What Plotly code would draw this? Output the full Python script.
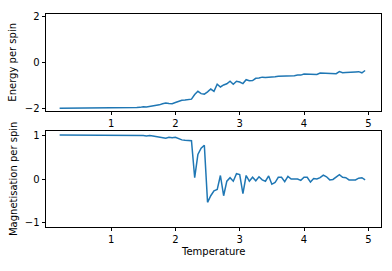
import plotly.graph_objects as go
from plotly.subplots import make_subplots

temperature = [
    0.20, 0.25, 0.30, 0.35, 0.40, 0.45, 0.50, 0.55, 0.60, 0.65,
    0.70, 0.75, 0.80, 0.85, 0.90, 0.95, 1.00, 1.05, 1.10, 1.15,
    1.20, 1.25, 1.30, 1.35, 1.40, 1.45, 1.50, 1.55, 1.60, 1.65,
    1.70, 1.75, 1.80, 1.85, 1.90, 1.95, 2.00, 2.05, 2.10, 2.15,
    2.20, 2.25, 2.30, 2.35, 2.40, 2.45, 2.50, 2.55, 2.60, 2.65,
    2.70, 2.75, 2.80, 2.85, 2.90, 2.95, 3.00, 3.05, 3.10, 3.15,
    3.20, 3.25, 3.30, 3.35, 3.40, 3.45, 3.50, 3.55, 3.60, 3.65,
    3.70, 3.75, 3.80, 3.85, 3.90, 3.95, 4.00, 4.05, 4.10, 4.15,
    4.20, 4.25, 4.30, 4.35, 4.40, 4.45, 4.50, 4.55, 4.60, 4.65,
    4.70, 4.75, 4.80, 4.85, 4.90, 4.95,
]

energy = [
    -2.00, -2.00, -2.00, -2.00, -2.00, -2.00, -2.00, -2.00, -2.00, -2.00,
    -2.00, -2.00, -2.00, -2.00, -2.00, -2.00, -2.00, -2.00, -2.00, -2.00,
    -1.99, -1.99, -1.98, -1.98, -1.97, -1.96, -1.93, -1.94, -1.92, -1.90,
    -1.88, -1.85, -1.80, -1.77, -1.79, -1.80, -1.75, -1.70, -1.65, -1.64,
    -1.62, -1.60, -1.40, -1.26, -1.36, -1.38, -1.28, -1.16, -1.26, -0.95,
    -1.07, -0.98, -0.93, -0.82, -0.95, -0.82, -0.85, -0.92, -0.75, -0.80,
    -0.79, -0.69, -0.68, -0.64, -0.65, -0.65, -0.64, -0.62, -0.60, -0.60,
    -0.58, -0.57, -0.57, -0.58, -0.55, -0.55, -0.50, -0.51, -0.52, -0.50,
    -0.52, -0.46, -0.47, -0.48, -0.47, -0.48, -0.49, -0.40, -0.45, -0.44,
    -0.44, -0.42, -0.41, -0.40, -0.45, -0.35,
]

magnetisation = [
    1.00, 1.00, 1.00, 1.00, 1.00, 1.00, 1.00, 1.00, 1.00, 1.00,
    1.00, 1.00, 1.00, 1.00, 1.00, 1.00, 1.00, 1.00, 1.00, 0.995,
    0.995, 0.995, 0.99, 0.995, 0.99, 0.99, 0.99, 0.98, 0.99, 0.98,
    0.97, 0.96, 0.94, 0.93, 0.95, 0.94, 0.95, 0.92, 0.89, 0.88,
    0.88, 0.87, 0.03, 0.56, 0.70, 0.77, -0.53, -0.38, -0.27, -0.24,
    0.08, -0.38, -0.05, 0.03, -0.05, 0.12, 0.10, -0.33, 0.08, -0.05,
    0.04, -0.04, 0.05, -0.02, -0.05, 0.07, -0.12, -0.08, 0.04, 0.04,
    -0.06, 0.06, 0.00, 0.00, 0.00, -0.03, 0.04, 0.04, -0.07, 0.01,
    0.00, 0.03, 0.09, 0.05, -0.02, -0.01, 0.04, 0.10, 0.04, 0.03,
    -0.02, -0.02, -0.02, 0.02, 0.03, -0.02,
]

x_ticks = [1, 2, 3, 4, 5]
energy_ticks = [-2, 0, 2]
mag_ticks = [-1, 0, 1]

W, H = 392, 271
line_color = "#1f77b4"
font = dict(family="DejaVu Sans", size=10, color="#000000")

fig = make_subplots(rows=2, cols=1)
fig.add_trace(go.Scatter(x=temperature, y=energy, mode="lines",
                         line=dict(color=line_color, width=1.5)), row=1, col=1)
fig.add_trace(go.Scatter(x=temperature, y=magnetisation, mode="lines",
                         line=dict(color=line_color, width=1.5)), row=2, col=1)

xdom = [46 / W, 381 / W]
axis_common = dict(showgrid=False, zeroline=False, showline=True, mirror=True,
                   linecolor="#000000", linewidth=1, ticks="outside", ticklen=3.5,
                   tickwidth=1, tickcolor="#000000", tickfont=font)

fig.update_layout(
    width=W, height=H, margin=dict(l=0, r=0, t=0, b=0),
    paper_bgcolor="white", plot_bgcolor="white", showlegend=False,
    font=font,
    xaxis=dict(domain=xdom, range=[-0.012, 5.197], tickvals=x_ticks,
               anchor="y", **axis_common),
    yaxis=dict(domain=[1 - 110 / H, 1 - 11.7 / H], range=[-2.1, 2.1],
               tickvals=energy_ticks, anchor="x", **axis_common),
    xaxis2=dict(domain=xdom, range=[-0.012, 5.197], tickvals=x_ticks,
                anchor="y2", **axis_common),
    yaxis2=dict(domain=[1 - 229 / H, 1 - 131 / H], range=[-1.09, 1.09],
                tickvals=mag_ticks, anchor="x2", **axis_common),
)

fig.add_annotation(text="Energy per spin", x=13 / W, y=1 - 61 / H, xref="paper",
                   yref="paper", textangle=-90, showarrow=False, font=font,
                   xanchor="center", yanchor="middle")
fig.add_annotation(text="Magnetisation per spin", x=13 / W, y=1 - 180 / H,
                   xref="paper", yref="paper", textangle=-90, showarrow=False,
                   font=font, xanchor="center", yanchor="middle")
fig.add_annotation(text="Temperature", x=213.5 / W, y=1 - 254 / H, xref="paper",
                   yref="paper", showarrow=False, font=font,
                   xanchor="center", yanchor="middle")

fig.write_html("out.html")
